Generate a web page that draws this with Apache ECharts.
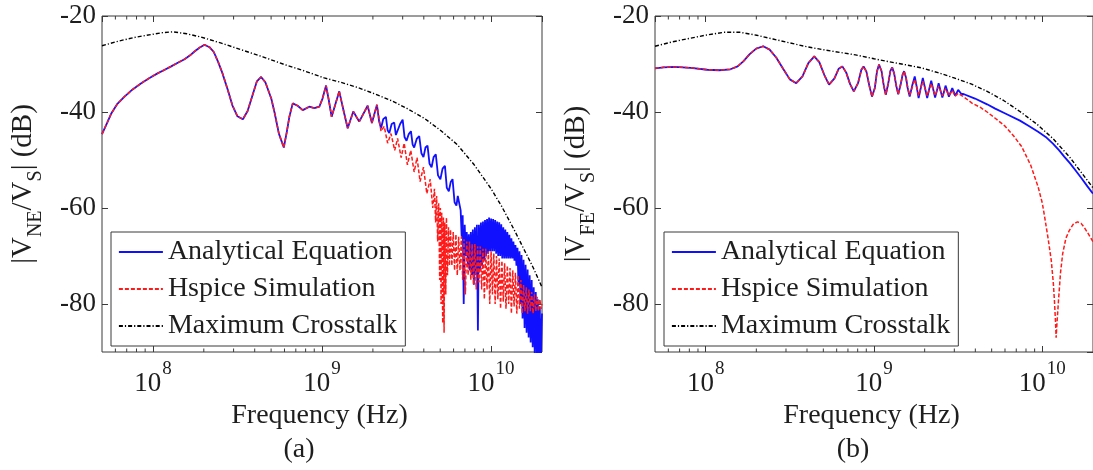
<!DOCTYPE html>
<html><head><meta charset="utf-8">
<script src="https://cdn.jsdelivr.net/npm/echarts@6/dist/echarts.min.js"></script>
<style>html,body{margin:0;padding:0;background:#fff}#c{width:1093px;height:470px}</style>
</head><body><div id="c"></div><script>
// ---------- DATA (x = log10 of frequency in Hz, y = dB) ----------
const legendNames = ['Analytical Equation', 'Hspice Simulation', 'Maximum Crosstalk'];
const panelLabels = ['(a)', '(b)'];
const xTickExponents = [8, 9, 10];
const yTickValues = [-80, -60, -40, -20];
const minorTickFreqs = [6e7,7e7,8e7,9e7, 2e8,3e8,4e8,5e8,6e8,7e8,8e8,9e8, 2e9,3e9,4e9,5e9,6e9,7e9,8e9,9e9];

// (a) near end: identical part of both curves
const nearCommon = [[7.699,-44.6],[7.73,-42.2],[7.754,-40.3],[7.79,-38.3],[7.832,-36.8],[7.88,-35.3],[7.931,-34.0],[7.98,-32.9],[8.03,-31.9],[8.07,-31.2],[8.108,-30.5],[8.15,-29.7],[8.187,-29.0],[8.22,-28.2],[8.246,-27.4],[8.275,-26.6],[8.305,-26.0],[8.335,-26.5],[8.36,-27.5],[8.385,-29.5],[8.41,-31.8],[8.443,-35.4],[8.47,-38.6],[8.5,-40.9],[8.532,-41.5],[8.56,-39.8],[8.59,-36.4],[8.615,-33.6],[8.64,-32.7],[8.665,-33.8],[8.70,-37.2],[8.72,-40.2],[8.745,-44.5],[8.774,-47.4],[8.79,-44.5],[8.807,-41.0],[8.827,-38.2],[8.856,-38.7],[8.886,-39.6],[8.925,-38.9],[8.955,-39.2],[8.984,-38.9],[9.003,-37.2],[9.024,-34.5],[9.04,-37.5],[9.057,-41.0],[9.08,-38.3],[9.102,-35.7],[9.128,-39.8],[9.152,-43.4],[9.185,-39.9],[9.22,-42.0],[9.27,-38.7],[9.295,-42.3],[9.325,-38.5]];
const nearAnalyticalTail = [[9.338,-42.0],[9.349,-43.4],[9.362,-41.5],[9.378,-41.0],[9.388,-43.8],[9.398,-44.4],[9.412,-42.5],[9.427,-42.2],[9.437,-44.8],[9.447,-45.1],[9.462,-42.5],[9.477,-41.6],[9.488,-45.2],[9.50,-46.0],[9.513,-44.6],[9.526,-44.0],[9.536,-46.8],[9.545,-47.4],[9.56,-45.6],[9.575,-45.0],[9.588,-48.6],[9.60,-49.4],[9.612,-47.4],[9.624,-47.0],[9.636,-50.8],[9.648,-51.5],[9.66,-49.4],[9.673,-48.8],[9.686,-53.2],[9.70,-54.0],[9.713,-51.8],[9.727,-51.2],[9.738,-55.8],[9.75,-56.5],[9.761,-54.6],[9.772,-54.0],[9.784,-58.8],[9.795,-59.5],[9.803,-57.5],[9.81,-57.6],
[9.820,-60.5],[9.826,-66],[9.832,-61.5],[9.838,-80],[9.844,-63.5],[9.850,-70],[9.856,-65],[9.862,-72],[9.868,-65.5],[9.874,-73],[9.880,-65],[9.886,-74],[9.892,-64.5],[9.898,-76],[9.904,-64],[9.910,-74],[9.916,-63.5],[9.922,-85.5],[9.928,-63.5],[9.934,-73],[9.940,-63],[9.946,-72],[9.952,-62.8],[9.958,-71],[9.964,-62.5],[9.970,-70],[9.976,-62.3],[9.982,-69.5],[9.988,-62],[9.994,-69],[10.000,-62.2],[10.006,-69],[10.012,-62.3],[10.018,-69],[10.024,-62.5],[10.030,-69.5],[10.036,-62.8],[10.042,-70],[10.048,-63],[10.054,-70],[10.060,-63.4],[10.066,-70.5],[10.072,-64],[10.078,-70.5],[10.084,-64.5],[10.090,-70.5],[10.096,-65],[10.102,-70.5],[10.108,-65.6],[10.114,-70.5],[10.120,-66.3],[10.126,-70.5],[10.132,-67],[10.138,-71],[10.144,-67.7],[10.150,-72],[10.156,-68.3],[10.162,-76],[10.168,-69],[10.174,-80],[10.180,-69.8],[10.186,-83],[10.192,-70.8],[10.198,-85],[10.204,-71.8],[10.210,-86],[10.216,-72.8],[10.222,-87],[10.228,-74],[10.234,-88],[10.240,-75],[10.246,-89],[10.252,-76.5],[10.258,-90.5],[10.264,-77.5],[10.270,-91],[10.276,-79],[10.282,-92],[10.288,-80.5],[10.294,-92],[10.301,-82]];
const nearHspiceTail = [[9.349,-44.0],[9.368,-43.0],[9.388,-46.5],[9.408,-44.5],[9.43,-48.0],[9.447,-45.5],[9.468,-49.5],[9.486,-46.5],[9.505,-51.0],[9.525,-48.0],[9.545,-52.5],[9.562,-49.5],[9.58,-54.5],[9.60,-51.5],[9.62,-57.0],[9.64,-54.0],[9.655,-60.0],[9.665,-56.0],
[9.672,-63],[9.678,-57.5],[9.684,-67],[9.690,-59],[9.696,-75],[9.700,-60],[9.704,-80],[9.708,-61],[9.714,-84],[9.718,-62],[9.722,-86],[9.726,-63],[9.732,-78],[9.736,-62],[9.742,-74],[9.748,-64],[9.754,-72],[9.760,-64.5],
[9.768,-72],[9.776,-65],[9.784,-73],[9.792,-65.5],[9.800,-74],[9.808,-66],[9.816,-73],[9.824,-66],[9.832,-75],[9.840,-66.5],[9.848,-78],[9.856,-67],[9.864,-74],[9.872,-67],[9.880,-75],[9.888,-67.5],[9.896,-76],[9.904,-67.5],[9.912,-77],[9.920,-68],[9.928,-75.5],[9.936,-68],[9.944,-77],[9.952,-68.5],[9.960,-79],[9.968,-68.5],[9.976,-77],[9.984,-69],[9.992,-80],[10.000,-69],[10.008,-78],[10.016,-69.5],[10.024,-80],[10.032,-70],[10.040,-79],[10.048,-70.5],[10.056,-81],[10.064,-71],[10.072,-79.5],[10.080,-71.5],[10.088,-81],[10.096,-72],[10.104,-80],[10.112,-72.5],[10.120,-82],[10.128,-73],[10.136,-80.5],[10.144,-73.5],[10.152,-82],[10.160,-74],[10.168,-81],[10.176,-75],[10.184,-82],[10.192,-76],[10.200,-81.5],[10.208,-76.5],[10.216,-82],[10.224,-77],[10.232,-81.5],[10.240,-77.5],[10.248,-82],[10.256,-78],[10.264,-81.5],[10.272,-78.5],[10.280,-81.5],[10.288,-79],[10.296,-81],[10.301,-80]];
const nearMaxCrosstalk = [[7.699,-26.2],[7.8,-25.2],[7.9,-24.4],[8.0,-23.8],[8.05,-23.5],[8.118,-23.3],[8.2,-23.7],[8.285,-24.4],[8.4,-25.6],[8.52,-27.0],[8.65,-28.5],[8.777,-30.1],[8.9,-31.5],[9.013,-32.9],[9.11,-33.8],[9.211,-34.9],[9.31,-36.2],[9.408,-37.6],[9.5,-39.2],[9.604,-41.3],[9.7,-43.8],[9.8,-46.8],[9.9,-51.0],[10.0,-56.0],[10.06,-59.5],[10.136,-64.5],[10.2,-69.0],[10.25,-72.5],[10.301,-76.5]];

// (b) far end
const farCommon = [[7.699,-30.9],[7.75,-30.7],[7.815,-30.6],[7.912,-30.8],[8.01,-31.2],[8.08,-31.3],[8.147,-31.1],[8.19,-30.5],[8.225,-29.4],[8.26,-28.0],[8.30,-26.8],[8.342,-26.3],[8.38,-27.0],[8.42,-28.7],[8.46,-31.0],[8.50,-33.2],[8.538,-34.0],[8.575,-32.6],[8.61,-29.8],[8.645,-28.4],[8.675,-29.6],[8.705,-32.3],[8.733,-34.3],[8.765,-33.0],[8.79,-31.0],[8.812,-30.5],[8.835,-31.8],[8.858,-34.2],[8.88,-35.7],[8.905,-34.0],[8.925,-31.2],[8.938,-30.5],[8.955,-31.6],[8.972,-34.5],[8.988,-36.8],[9.005,-35.0],[9.018,-31.5],[9.03,-30.1],[9.045,-31.5],[9.058,-34.5],[9.07,-36.4],[9.085,-34.0],[9.097,-31.5],[9.108,-30.7],[9.12,-32.0],[9.132,-34.5],[9.144,-36.3],[9.16,-34.0],[9.17,-32.2],[9.179,-31.5],[9.19,-32.8],[9.2,-35.0]];
const farAnalyticalTail = [[9.212,-36.8],[9.227,-34.5],[9.242,-32.6],[9.254,-34.8],[9.265,-37.1],[9.278,-35.0],[9.29,-32.9],[9.303,-35.0],[9.316,-37.1],[9.328,-35.2],[9.34,-33.5],[9.352,-35.3],[9.363,-37.0],[9.374,-35.5],[9.384,-34.0],[9.395,-35.5],[9.406,-37.0],[9.416,-35.8],[9.425,-34.5],[9.435,-35.6],[9.445,-36.8],[9.455,-35.9],[9.465,-35.0],[9.474,-35.8],[9.482,-36.6],[9.491,-36.0],[9.50,-35.4],[9.518,-36.2],[9.535,-36.3],[9.6,-37.2],[9.672,-38.4],[9.72,-39.3],[9.78,-40.3],[9.867,-41.8],[9.92,-42.9],[9.975,-44.1],[10.02,-45.2],[10.063,-46.6],[10.1,-48.0],[10.13,-49.3],[10.165,-50.7],[10.2,-52.3],[10.235,-53.9],[10.268,-55.5],[10.301,-57.0]];
const farHspiceTail = [[9.212,-36.5],[9.242,-33.2],[9.265,-36.6],[9.29,-33.6],[9.316,-36.6],[9.34,-34.1],[9.363,-36.6],[9.384,-34.6],[9.406,-36.6],[9.425,-35.1],[9.445,-36.6],[9.465,-35.5],[9.482,-36.7],[9.50,-36.1],[9.535,-36.9],[9.584,-38.2],[9.63,-39.0],[9.672,-40.0],[9.72,-41.3],[9.78,-43.0],[9.83,-45.0],[9.877,-47.2],[9.93,-51.0],[9.975,-55.6],[10.0,-59.0],[10.014,-61.9],[10.035,-66.5],[10.053,-70.9],[10.065,-75.5],[10.072,-79.3],[10.078,-83.5],[10.082,-87.0],[10.087,-84],[10.096,-79.3],[10.108,-73.5],[10.121,-69.5],[10.14,-66.3],[10.16,-64.7],[10.185,-63.3],[10.209,-62.9],[10.23,-63.2],[10.248,-64.0],[10.27,-65.2],[10.285,-66.1],[10.301,-67.0]];
const farMaxCrosstalk = [[7.699,-26.3],[7.8,-25.4],[7.912,-24.6],[8.0,-24.0],[8.108,-23.4],[8.205,-23.4],[8.303,-24.0],[8.4,-24.8],[8.499,-25.6],[8.6,-26.4],[8.694,-27.0],[8.8,-27.6],[8.89,-28.1],[9.0,-28.9],[9.085,-29.5],[9.18,-30.1],[9.281,-30.8],[9.38,-31.8],[9.476,-32.9],[9.58,-34.2],[9.672,-35.7],[9.77,-37.6],[9.867,-39.9],[9.97,-42.6],[10.062,-45.5],[10.16,-49.3],[10.258,-53.8],[10.301,-55.8]];

// ---------- CHART ----------
const FONT = 'Liberation Serif';
const TXT = '#1e1e1e';
const AX = '#3a3a3a';
const toHz = arr => arr.map(p => [Math.pow(10, p[0]), p[1]]);
const series = [];
const grids = [
  {left: 102, top: 16, width: 440, height: 336},
  {left: 655, top: 16, width: 440, height: 336}
];
const yNames = ['|V{sub|NE}/V{sub|S}| (dB)', '|V{sub|FE}/V{sub|S}| (dB)'];
const panels = [
  [nearCommon.concat(nearAnalyticalTail), nearCommon.concat(nearHspiceTail), nearMaxCrosstalk],
  [farCommon.concat(farAnalyticalTail), farCommon.concat(farHspiceTail), farMaxCrosstalk]
];
const styles = [
  {color: '#1010ff', width: 1.8, type: 'solid'},
  {color: '#ff1a1a', width: 1.5, type: [4, 2]},
  {color: '#000000', width: 1.4, type: [4, 2, 1.2, 2]}
];
const xAxis = [], yAxis = [], legend = [], graphic = [];
grids.forEach((g, gi) => {
  g.show = true; g.borderColor = AX; g.borderWidth = 1; g.backgroundColor = '#fff';
  const common = {type: 'log', logBase: 10, gridIndex: gi, min: 5e7, max: 2e10,
    axisLine: {show: false}, splitLine: {show: false}, minorSplitLine: {show: false},
    axisTick: {show: true, inside: true, length: 6, lineStyle: {color: AX, width: 1}}};
  xAxis.push(Object.assign({}, common, {position: 'bottom',
    axisLabel: {show: true, interval: 0, margin: 8, showMinLabel: false, showMaxLabel: false,
      fontFamily: FONT,
      formatter: v => '{b|10}{s|' + Math.round(Math.log10(v)) + '}',
      rich: {b: {fontFamily: FONT, fontSize: 27, color: TXT},
             s: {fontFamily: FONT, fontSize: 19, color: TXT, padding: [0, 0, 28, 1]}}},
    name: 'Frequency (Hz)', nameLocation: 'middle', nameGap: 48,
    nameTextStyle: {fontFamily: FONT, fontSize: 28, color: TXT, padding: [0, 5, 0, 0]}}));
  xAxis.push(Object.assign({}, common, {position: 'top', axisLabel: {show: false}}));
  const yc = {type: 'value', gridIndex: gi, min: -90, max: -20, splitNumber: 3,
    axisLine: {show: false}, splitLine: {show: false},
    axisTick: {show: true, inside: true, length: 6, lineStyle: {color: AX, width: 1}}};
  yAxis.push(Object.assign({}, yc, {position: 'left',
    axisLabel: {show: true, margin: 6, showMinLabel: false, fontFamily: FONT, fontSize: 27, color: TXT},
    name: yNames[gi], nameLocation: 'middle', nameRotate: 90, nameGap: 56,
    nameTextStyle: {fontFamily: FONT, fontSize: 29, color: TXT,
      rich: {sub: {fontFamily: FONT, fontSize: 20, color: TXT, padding: [26, 0, 0, 0]}}}}));
  yAxis.push(Object.assign({}, yc, {position: 'right', axisLabel: {show: false}}));
  panels[gi].forEach((d, si) => {
    series.push({type: 'line', name: legendNames[si], xAxisIndex: gi * 2, yAxisIndex: gi * 2,
      data: toHz(d), showSymbol: false, symbol: 'none', sampling: null, animation: false,
      lineStyle: {color: styles[si].color, width: styles[si].width, type: styles[si].type},
      itemStyle: {color: styles[si].color}, z: 2 + si});
  });
  series.push({type: 'custom', xAxisIndex: gi * 2, yAxisIndex: gi * 2, silent: true, animation: false, z: 10,
    data: minorTickFreqs.map(f => [f, -90]), encode: {x: 0, y: 1},
    renderItem: (params, api) => {
      const f = api.value(0);
      const b = api.coord([f, -90]), t = api.coord([f, -20]);
      const st = {stroke: AX, lineWidth: 1};
      return {type: 'group', children: [
        {type: 'line', shape: {x1: b[0], y1: b[1], x2: b[0], y2: b[1] - 3.5}, style: st},
        {type: 'line', shape: {x1: t[0], y1: t[1], x2: t[0], y2: t[1] + 3.5}, style: st}
      ]};
    }});
  legend.push({left: g.left + 9, top: 232, orient: 'vertical', data: legendNames.slice(), selectedMode: false,
    padding: [6, 8, 6, 7], itemGap: 9, itemWidth: 44, itemHeight: 14,
    borderColor: AX, borderWidth: 1, backgroundColor: '#fff', z: 20,
    itemStyle: {opacity: 0}, lineStyle: {width: 1.8},
    textStyle: {fontFamily: FONT, fontSize: 28, color: TXT}});
  graphic.push({type: 'text', x: gi === 0 ? 299 : 853, y: 450, z: 30,
    style: {text: panelLabels[gi], font: '28px "Liberation Serif"', fill: TXT, align: 'center', verticalAlign: 'middle'}});
});
const chart = echarts.init(document.getElementById('c'), null, {renderer: 'canvas'});
chart.setOption({animation: false, backgroundColor: '#fff', textStyle: {fontFamily: FONT},
  grid: grids, xAxis, yAxis, legend, graphic, series});
</script></body></html>
